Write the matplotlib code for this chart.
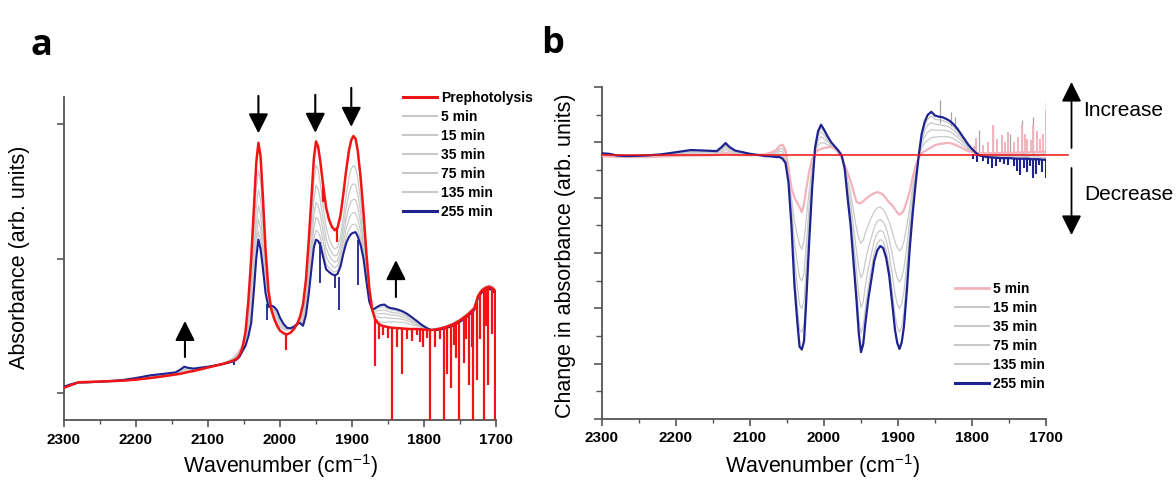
import numpy as np
import matplotlib
matplotlib.use("Agg")
import matplotlib.pyplot as plt
from matplotlib.lines import Line2D

plt.rcParams['font.family'] = ['Liberation Sans', 'DejaVu Sans']
plt.rcParams['mathtext.fontset'] = 'custom'
plt.rcParams['mathtext.rm'] = 'Liberation Sans'
plt.rcParams['mathtext.default'] = 'regular'

# ---------------------------------------------------------------- data
wavenumber = [
    2300, 2290, 2280, 2270, 2260, 2240, 2220, 2200, 2180, 2160,
    2145, 2138, 2133, 2128, 2120, 2100, 2080, 2070, 2064, 2060,
    2056, 2052, 2048, 2044, 2040, 2036, 2033, 2030, 2027, 2024,
    2020, 2016, 2012, 2008, 2004, 2000, 1995, 1990, 1985, 1980,
    1976, 1972, 1968, 1964, 1960, 1956, 1953, 1950, 1947, 1944,
    1940, 1936, 1932, 1928, 1924, 1920, 1916, 1912, 1908, 1904,
    1901, 1898, 1895, 1892, 1888, 1884, 1880, 1876, 1872, 1868,
    1864, 1860, 1855, 1850, 1845, 1840, 1835, 1830, 1825, 1820,
    1815, 1810, 1805, 1800, 1795, 1790, 1780, 1770, 1760, 1750,
    1740, 1730, 1725, 1720, 1715, 1710, 1705, 1700]

# absorbance before photolysis
prephotolysis = [
    0.020, 0.030, 0.040, 0.041, 0.042, 0.044, 0.046, 0.050, 0.056, 0.063,
    0.069, 0.072, 0.075, 0.078, 0.082, 0.095, 0.108, 0.116, 0.122, 0.128,
    0.142, 0.170, 0.225, 0.340, 0.500, 0.700, 0.855, 0.930, 0.880, 0.740,
    0.530, 0.380, 0.310, 0.275, 0.250, 0.232, 0.222, 0.218, 0.225, 0.240,
    0.258, 0.285, 0.330, 0.420, 0.570, 0.740, 0.870, 0.935, 0.915, 0.860,
    0.770, 0.690, 0.645, 0.618, 0.605, 0.615, 0.660, 0.740, 0.830, 0.905,
    0.940, 0.955, 0.945, 0.900, 0.800, 0.670, 0.520, 0.390, 0.310, 0.275,
    0.260, 0.252, 0.248, 0.245, 0.243, 0.242, 0.241, 0.240, 0.239, 0.238,
    0.238, 0.238, 0.237, 0.236, 0.235, 0.234, 0.238, 0.245, 0.255, 0.270,
    0.290, 0.315, 0.360, 0.380, 0.390, 0.395, 0.390, 0.375]

# change in absorbance after each photolysis time
change_5 = [
    -0.001, -0.002, -0.003, -0.003, -0.003, -0.003, -0.002, -0.001, 0.000, 0.000,
    0.001, 0.003, 0.005, 0.003, 0.001, 0.000, 0.002, 0.006, 0.011, 0.018,
    0.020, 0.010, -0.024, -0.060, -0.078, -0.088, -0.096, -0.105, -0.090, -0.062,
    -0.030, -0.006, 0.004, 0.010, 0.012, 0.014, 0.015, 0.016, 0.012, 0.004,
    -0.005, -0.018, -0.032, -0.048, -0.068, -0.086, -0.089, -0.088, -0.085, -0.081,
    -0.077, -0.073, -0.070, -0.068, -0.070, -0.073, -0.080, -0.087, -0.092, -0.100,
    -0.106, -0.110, -0.107, -0.101, -0.085, -0.066, -0.040, -0.018, -0.004, 0.004,
    0.008, 0.011, 0.015, 0.019, 0.021, 0.022, 0.023, 0.023, 0.021, 0.018,
    0.015, 0.011, 0.008, 0.006, 0.005, 0.004, 0.004, 0.004, 0.005, 0.005,
    0.005, 0.006, 0.006, 0.006, 0.006, 0.006, 0.007, 0.007]

change_15 = [
    0.000, -0.001, -0.002, -0.002, -0.002, -0.002, -0.001, 0.001, 0.003, 0.002,
    0.003, 0.007, 0.010, 0.007, 0.003, 0.001, 0.001, 0.004, 0.007, 0.012,
    0.013, 0.004, -0.031, -0.079, -0.122, -0.148, -0.166, -0.174, -0.159, -0.118,
    -0.065, -0.021, 0.007, 0.019, 0.024, 0.023, 0.020, 0.018, 0.013, 0.005,
    -0.004, -0.020, -0.045, -0.070, -0.104, -0.136, -0.154, -0.163, -0.157, -0.143,
    -0.128, -0.115, -0.104, -0.097, -0.096, -0.100, -0.110, -0.123, -0.141, -0.160,
    -0.171, -0.177, -0.172, -0.160, -0.130, -0.094, -0.058, -0.027, -0.003, 0.014,
    0.023, 0.028, 0.033, 0.034, 0.035, 0.035, 0.035, 0.034, 0.031, 0.027,
    0.022, 0.016, 0.011, 0.008, 0.005, 0.003, 0.002, 0.002, 0.002, 0.002,
    0.002, 0.003, 0.003, 0.002, 0.002, 0.002, 0.003, 0.003]

change_35 = [
    0.002, 0.001, -0.002, -0.002, -0.002, -0.002, 0.000, 0.003, 0.005, 0.005,
    0.005, 0.010, 0.014, 0.010, 0.005, 0.002, 0.001, 0.002, 0.004, 0.008,
    0.007, -0.002, -0.037, -0.095, -0.159, -0.199, -0.226, -0.233, -0.218, -0.166,
    -0.095, -0.033, 0.010, 0.028, 0.035, 0.031, 0.025, 0.020, 0.014, 0.006,
    -0.003, -0.022, -0.056, -0.089, -0.134, -0.178, -0.210, -0.227, -0.218, -0.196,
    -0.171, -0.152, -0.133, -0.122, -0.119, -0.123, -0.135, -0.155, -0.182, -0.212,
    -0.227, -0.235, -0.227, -0.210, -0.168, -0.118, -0.073, -0.034, -0.002, 0.022,
    0.035, 0.043, 0.048, 0.047, 0.047, 0.047, 0.046, 0.044, 0.040, 0.034,
    0.028, 0.021, 0.014, 0.009, 0.005, 0.002, 0.001, 0.000, 0.000, 0.000,
    0.000, 0.000, 0.000, 0.000, 0.000, 0.000, 0.000, 0.000]

change_75 = [
    0.003, 0.002, -0.001, -0.002, -0.002, -0.001, 0.001, 0.004, 0.007, 0.006,
    0.006, 0.012, 0.018, 0.012, 0.007, 0.002, 0.000, 0.000, 0.001, 0.003,
    0.002, -0.007, -0.042, -0.109, -0.191, -0.243, -0.277, -0.284, -0.269, -0.208,
    -0.121, -0.044, 0.012, 0.035, 0.044, 0.038, 0.029, 0.022, 0.015, 0.007,
    -0.002, -0.023, -0.066, -0.105, -0.160, -0.215, -0.258, -0.282, -0.271, -0.241,
    -0.209, -0.183, -0.158, -0.144, -0.139, -0.142, -0.157, -0.182, -0.218, -0.257,
    -0.275, -0.284, -0.275, -0.253, -0.201, -0.139, -0.086, -0.040, -0.001, 0.029,
    0.046, 0.056, 0.061, 0.058, 0.057, 0.056, 0.055, 0.052, 0.047, 0.040,
    0.033, 0.024, 0.016, 0.010, 0.005, 0.001, -0.001, -0.002, -0.002, -0.002,
    -0.003, -0.002, -0.002, -0.003, -0.003, -0.003, -0.004, -0.004]

change_135 = [
    0.003, 0.002, 0.000, -0.001, -0.001, 0.000, 0.002, 0.005, 0.009, 0.008,
    0.007, 0.014, 0.021, 0.014, 0.008, 0.003, 0.000, -0.001, -0.001, 0.000,
    -0.003, -0.011, -0.047, -0.121, -0.220, -0.282, -0.323, -0.328, -0.313, -0.244,
    -0.144, -0.053, 0.014, 0.041, 0.051, 0.044, 0.033, 0.023, 0.016, 0.008,
    -0.001, -0.024, -0.074, -0.120, -0.184, -0.247, -0.300, -0.330, -0.317, -0.281,
    -0.242, -0.210, -0.179, -0.163, -0.156, -0.160, -0.176, -0.205, -0.250, -0.296,
    -0.318, -0.328, -0.317, -0.291, -0.229, -0.157, -0.097, -0.046, 0.000, 0.036,
    0.055, 0.067, 0.073, 0.067, 0.066, 0.065, 0.062, 0.059, 0.053, 0.046,
    0.037, 0.028, 0.019, 0.011, 0.005, 0.001, -0.002, -0.003, -0.004, -0.004,
    -0.005, -0.005, -0.005, -0.005, -0.005, -0.005, -0.006, -0.006]

change_255 = [
    0.004, 0.003, 0.000, -0.001, -0.001, 0.000, 0.002, 0.006, 0.010, 0.009,
    0.008, 0.016, 0.023, 0.016, 0.009, 0.003, -0.001, -0.002, -0.003, -0.003,
    -0.006, -0.014, -0.050, -0.130, -0.240, -0.310, -0.355, -0.360, -0.345, -0.270,
    -0.160, -0.060, 0.015, 0.045, 0.057, 0.048, 0.035, 0.024, 0.016, 0.008,
    0.000, -0.025, -0.080, -0.130, -0.200, -0.270, -0.330, -0.365, -0.350, -0.310,
    -0.265, -0.230, -0.195, -0.176, -0.168, -0.172, -0.190, -0.222, -0.272, -0.324,
    -0.348, -0.359, -0.347, -0.318, -0.250, -0.170, -0.105, -0.050, 0.000, 0.040,
    0.062, 0.075, 0.081, 0.074, 0.072, 0.071, 0.068, 0.064, 0.058, 0.050,
    0.040, 0.030, 0.020, 0.012, 0.005, 0.000, -0.003, -0.004, -0.005, -0.005,
    -0.006, -0.006, -0.006, -0.007, -0.007, -0.007, -0.008, -0.008]

time_labels = ['5 min', '15 min', '35 min', '75 min', '135 min', '255 min']
changes = [change_5, change_15, change_35, change_75, change_135, change_255]

# sharp vapour lines: wavenumber, upper end, lower end
pre_spike_wn = [1992, 1940, 1921, 1868, 1863, 1857, 1850, 1844, 1837, 1830,
                1824, 1817, 1810, 1806, 1801, 1796, 1792, 1785, 1778, 1772,
                1768, 1762, 1758, 1755, 1751, 1745, 1741, 1738, 1734, 1732,
                1727, 1722, 1717, 1714, 1711, 1706, 1701]
pre_spike_top = [0.220, 0.770, 0.610, 0.275, 0.262, 0.250, 0.245, 0.243, 0.241, 0.240,
                 0.239, 0.238, 0.238, 0.237, 0.236, 0.235, 0.234, 0.236, 0.238, 0.243,
                 0.247, 0.252, 0.258, 0.262, 0.268, 0.280, 0.288, 0.295, 0.305, 0.310,
                 0.340, 0.375, 0.385, 0.390, 0.395, 0.390, 0.380]
pre_spike_low = [0.160, 0.710, 0.560, 0.100, 0.200, 0.215, 0.205, -0.120, 0.170, 0.070,
                 0.200, 0.195, 0.215, 0.190, 0.170, 0.205, -0.120, 0.170, 0.200, -0.120,
                 0.070, 0.020, 0.180, 0.130, -0.120, 0.110, 0.200, 0.030, 0.170, -0.120,
                 0.050, 0.200, -0.120, 0.250, 0.030, 0.220, -0.120]

late_spike_wn = [2064, 2018, 1945, 1924, 1918, 1892]
late_spike_top = [0.122, 0.330, 0.560, 0.440, 0.430, 0.570]
late_spike_low = [0.105, 0.270, 0.410, 0.390, 0.310, 0.400]

# spikes in the difference spectra
d5_spike_wn = [1797, 1794, 1785, 1778, 1772, 1766, 1760, 1755, 1751, 1743,
               1738, 1733, 1729, 1725, 1720, 1717, 1712, 1708, 1704, 1700]
d5_spike_top = [0.018, 0.032, 0.020, 0.025, 0.057, 0.030, 0.038, 0.025, 0.044, 0.025,
                0.035, 0.057, 0.040, 0.030, 0.028, 0.057, 0.045, 0.030, 0.040, 0.085]
d5_spike_base = [0.005, 0.005, 0.004, 0.004, 0.004, 0.004, 0.005, 0.005, 0.005, 0.005,
                 0.005, 0.006, 0.006, 0.006, 0.006, 0.006, 0.006, 0.006, 0.007, 0.007]

dmid_spike_wn = [1843, 1828, 1823, 1791, 1772, 1749, 1733, 1717, 1700]
dmid_spike_top = [0.103, 0.080, 0.072, 0.047, 0.057, 0.040, 0.066, 0.072, 0.103]
dmid_spike_base = [0.060, 0.055, 0.050, 0.002, 0.000, 0.000, 0.000, 0.000, 0.000]

d255_spike_wn = [1798, 1793, 1785, 1778, 1773, 1767, 1762, 1757, 1751, 1743,
                 1739, 1735, 1730, 1725, 1722, 1718, 1714, 1710, 1705, 1700]
d255_spike_base = [0.003, 0.000, -0.003, -0.003, -0.003, -0.004, -0.005, -0.005, -0.005, -0.006,
                   -0.006, -0.006, -0.006, -0.006, -0.007, -0.007, -0.007, -0.007, -0.008, -0.008]
d255_spike_low = [-0.006, -0.012, -0.010, -0.015, -0.023, -0.020, -0.012, -0.015, -0.018, -0.020,
                  -0.028, -0.036, -0.023, -0.030, -0.020, -0.042, -0.035, -0.018, -0.030, -0.042]

x_ticks = [2300, 2200, 2100, 2000, 1900, 1800, 1700]
x_tick_labels = ['2300', '2200', '2100', '2000', '1900', '1800', '1700']

# ---------------------------------------------------------------- styles
RED = '#f01414'
NAVY = '#1f2390'
GREY = '#c9c9c9'
PINK = '#f2b3bd'
SPINE = '#555555'

W, H = 1176, 483
fig = plt.figure(figsize=(W / 100, H / 100), dpi=100)


def px_box(left, top, right, bottom):
    return [left / W, 1 - bottom / H, (right - left) / W, (bottom - top) / H]


def px(x, y):
    return (x / W, 1 - y / H)


def style_axes(ax):
    for side in ('top', 'right'):
        ax.spines[side].set_visible(False)
    for side in ('left', 'bottom'):
        ax.spines[side].set_color(SPINE)
        ax.spines[side].set_linewidth(1.3)
    ax.set_xlim(2300, 1700)
    ax.set_xticks(x_ticks)
    ax.set_xticklabels(x_tick_labels, fontweight='bold', fontsize=11)
    ax.set_xticks(np.arange(1750, 2300, 100), minor=True)
    ax.tick_params(which='major', direction='out', length=5, width=1.2,
                   color=SPINE, pad=4)
    ax.tick_params(which='minor', direction='out', length=3, width=1.0,
                   color=SPINE)
    ax.tick_params(axis='y', labelleft=False)


wn = np.array(wavenumber)
pre = np.array(prephotolysis)

# ---------------------------------------------------------------- panel a
ax_a = fig.add_axes(px_box(64, 97, 496, 420))
style_axes(ax_a)
ax_a.set_ylim(-0.1, 1.1)
ax_a.set_yticks([0.0, 0.5, 1.0])

for ch in changes[:-1]:
    ax_a.plot(wn, pre + np.array(ch), color=GREY, lw=0.9, zorder=2)
ax_a.plot(wn, pre + np.array(change_255), color=NAVY, lw=1.5, zorder=3)
ax_a.vlines(late_spike_wn, late_spike_low, late_spike_top, color=NAVY, lw=1.3, zorder=3)
ax_a.plot(wn, pre, color=RED, lw=1.8, zorder=5)
ax_a.vlines(pre_spike_wn, pre_spike_low, pre_spike_top, color=RED, lw=1.6, zorder=5)

legend_a = [Line2D([], [], color=RED, lw=2.2)]
legend_a += [Line2D([], [], color=GREY, lw=1.5) for _ in time_labels[:-1]]
legend_a += [Line2D([], [], color=NAVY, lw=2.2)]
ax_a.legend(legend_a, ['Prephotolysis'] + time_labels, loc='upper left',
            bbox_to_anchor=px(403, 91), bbox_transform=fig.transFigure,
            frameon=False, borderpad=0, borderaxespad=0, handlelength=2.45,
            handletextpad=0.3, labelspacing=0.36,
            prop={'size': 10, 'weight': 'bold'})

arrow_kw = dict(arrowstyle='-|>,head_length=0.8,head_width=0.4', color='black',
                lw=1.5, mutation_scale=15, shrinkA=0, shrinkB=0)
peak_arrows = [(2030, 1.104, 0.965), (1951, 1.108, 0.967), (1901, 1.134, 0.989),
               (2132, 0.134, 0.268), (1839, 0.357, 0.494)]
for x, tail, tip in peak_arrows:
    ax_a.annotate('', xy=(x, tip), xytext=(x, tail), arrowprops=arrow_kw,
                  annotation_clip=False, zorder=8)

# ---------------------------------------------------------------- panel b
ax_b = fig.add_axes(px_box(602, 87, 1046, 419))
style_axes(ax_b)
yb0, yb1 = -0.489, 0.127
ax_b.set_ylim(yb0, yb1)
ax_b.set_yticks(np.linspace(yb0, yb1, 7))
ax_b.set_yticks(np.linspace(yb0, yb1, 13), minor=True)
ax_b.tick_params(axis='y', which='major', length=6)
ax_b.tick_params(axis='y', which='minor', length=4)

for ch in changes[1:-1]:
    ax_b.plot(wn, ch, color=GREY, lw=0.9, zorder=2)
ax_b.vlines(dmid_spike_wn, dmid_spike_base, dmid_spike_top, color='#a5a5a5', lw=0.9, zorder=2)
ax_b.plot(wn, change_5, color=PINK, lw=1.6, zorder=3)
ax_b.vlines(d5_spike_wn, d5_spike_base, d5_spike_top, color=PINK, lw=1.4, zorder=3)
ax_b.plot(wn, change_255, color=NAVY, lw=1.6, zorder=4)
ax_b.vlines(d255_spike_wn, d255_spike_low, d255_spike_base, color=NAVY, lw=1.5, zorder=4)
ax_b.plot([2300, 1670], [0, 0], color=RED, lw=1.1, clip_on=False, zorder=6)

legend_b = [Line2D([], [], color=PINK, lw=2.0)]
legend_b += [Line2D([], [], color=GREY, lw=1.5) for _ in time_labels[1:-1]]
legend_b += [Line2D([], [], color=NAVY, lw=2.2)]
ax_b.legend(legend_b, time_labels, loc='upper left',
            bbox_to_anchor=px(955, 282), bbox_transform=fig.transFigure,
            frameon=False, borderpad=0, borderaxespad=0, handlelength=2.45,
            handletextpad=0.3, labelspacing=0.36,
            prop={'size': 10, 'weight': 'bold'})

side_kw = dict(arrowstyle='-|>,head_length=0.8,head_width=0.4', color='black',
               lw=1.3, mutation_scale=15, shrinkA=0, shrinkB=0)
ax_b.annotate('', xy=px(1071.5, 82), xytext=px(1071.5, 148),
              xycoords='figure fraction', textcoords='figure fraction',
              arrowprops=side_kw, annotation_clip=False)
ax_b.annotate('', xy=px(1071.5, 235), xytext=px(1071.5, 168),
              xycoords='figure fraction', textcoords='figure fraction',
              arrowprops=side_kw, annotation_clip=False)
fig.text(*px(1083, 110), 'Increase', fontsize=15, ha='left', va='center')
fig.text(*px(1084, 195), 'Decrease', fontsize=15, ha='left', va='center')

# ---------------------------------------------------------------- labels
xlabel = 'Wavenumber (cm$^{-1}$)'
fig.text(*px(281, 466), xlabel, fontsize=15.5, ha='center', va='center')
fig.text(*px(823, 466), xlabel, fontsize=15.5, ha='center', va='center')
fig.text(*px(20, 257), 'Absorbance (arb. units)', fontsize=15.5,
         rotation=90, ha='center', va='center')
fig.text(*px(565, 256), 'Change in absorbance (arb. units)', fontsize=15.5,
         rotation=90, ha='center', va='center')
fig.text(*px(30, 55), 'a', fontsize=26, fontweight='bold',
         family=['Open Sans', 'DejaVu Sans'], ha='left', va='baseline')
fig.text(*px(541, 53), 'b', fontsize=26, fontweight='bold',
         family=['Open Sans', 'DejaVu Sans'], ha='left', va='baseline')

fig.savefig('out.png', dpi=100)
